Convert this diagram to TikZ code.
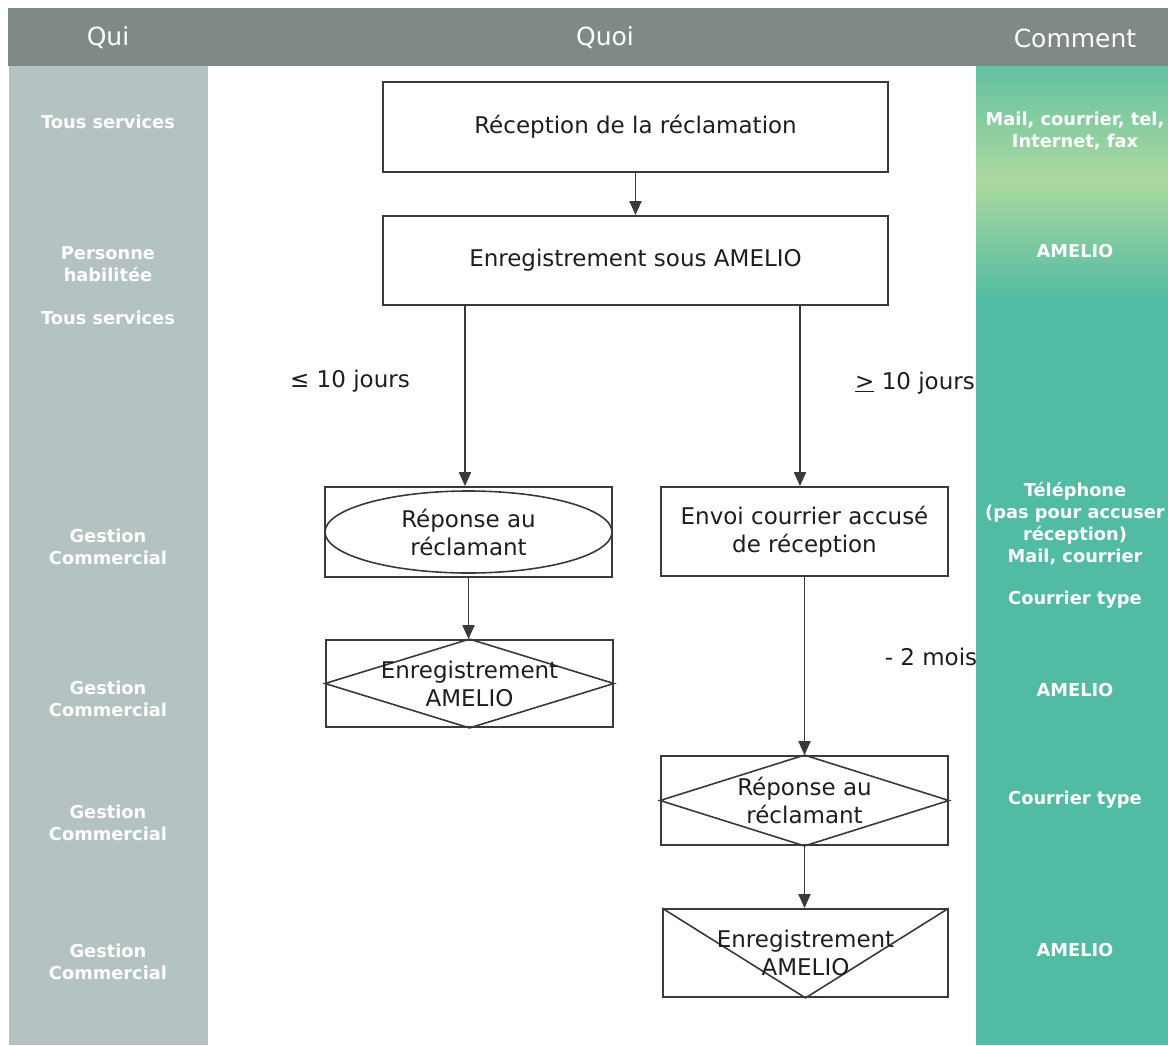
\documentclass[tikz,border=0pt]{standalone}
\usepackage{fontspec}
\setmainfont{DejaVu Sans}
\usetikzlibrary{arrows.meta,shapes.geometric}
\definecolor{hdr}{HTML}{7F8A85}
\definecolor{qui}{HTML}{B4C3C1}
\definecolor{comm}{HTML}{52BBA3}
\definecolor{commlight}{HTML}{ACD99F}
\definecolor{ln}{HTML}{3A3A3A}
\definecolor{txt}{HTML}{1E1E1E}
\begin{document}
\begin{tikzpicture}[x=1pt,y=-1pt,
  box/.style={draw=ln, line width=1.8pt, minimum width=287pt, minimum height=89pt, inner sep=0pt, align=center, font=\fontsize{23}{28}\selectfont, text=txt},
  inner/.style={draw=ln, line width=1.6pt},
  conn/.style={draw=ln, line width=1.9pt, -{Triangle[length=14pt,width=12pt]}},
  lbl/.style={font=\fontsize{23}{28}\selectfont, text=txt, inner sep=0pt},
  hdrtxt/.style={font=\fontsize{25}{28}\selectfont, text=white},
  colt/.style={font=\bfseries\fontsize{17.8}{22}\selectfont, text=white, align=center, inner sep=0pt}
]
\useasboundingbox (0,0) rectangle (1168,1045);
\fill[white] (0,0) rectangle (1168,1045);
% columns
\fill[hdr] (8,8) rectangle (1168,66);
\fill[qui] (9,66) rectangle (208,1045);
\fill[comm] (976,66) rectangle (1168,1045);
\shade[top color=comm!80!commlight, bottom color=commlight] (976,66) rectangle (1168,180);
\shade[top color=commlight, bottom color=comm] (976,180) rectangle (1168,300);
% headers
\node[hdrtxt] (hqui) at (108,38) {Qui};
\node[hdrtxt] (hquoi) at (605,38) {Quoi};
\node[hdrtxt] (hcomm) at (1075,38) {Comment};
% left column
\node[colt] (q1) at (108,122) {Tous services};
\node[colt] (q2) at (108,264) {Personne\\habilitée};
\node[colt] (q3) at (108,318) {Tous services};
\node[colt] (q4) at (108,547) {Gestion\\Commercial};
\node[colt] (q5) at (108,699) {Gestion\\Commercial};
\node[colt] (q6) at (108,823) {Gestion\\Commercial};
\node[colt] (q7) at (108,962) {Gestion\\Commercial};
% right column
\node[colt] (c1) at (1075,131) {Mail, courrier, tel,\\Internet, fax};
\node[colt] (c2) at (1075,251) {AMELIO};
\node[colt] (c3) at (1075,524) {Téléphone\\(pas pour accuser\\réception)\\Mail, courrier};
\node[colt] (c4) at (1075,600) {Courrier type};
\node[colt] (c5) at (1075,690) {AMELIO};
\node[colt] (c6) at (1075,800) {Courrier type};
\node[colt] (c7) at (1075,950) {AMELIO};
% boxes
\node[box, minimum width=505pt, minimum height=90pt] (b1) at (635.5,127) {};
\node[lbl] at (b1.center) {Réception de la réclamation};
\node[box, minimum width=505pt, minimum height=89pt] (b2) at (635.5,260.5) {};
\node[lbl] at (b2.center) {Enregistrement sous AMELIO};
\node[box, minimum height=90pt] (b3) at (468.5,532) {};
\node[ellipse, inner, minimum width=287pt, minimum height=82pt, inner sep=0pt] (e3) at (b3.center) {};
\node[lbl, align=center] at (b3.center) {Réponse au\\réclamant};
\node[box, minimum height=87pt] (b4) at (469.5,683.5) {};
\draw[inner] (b4.west) -- (b4.north) -- (b4.east) -- (b4.south) -- cycle;
\node[lbl, align=center] at (b4.center) {Enregistrement\\AMELIO};
\node[box] (b5) at (804.5,531.5) {};
\node[lbl, align=center] at (b5.center) {Envoi courrier accusé\\de réception};
\node[box] (b6) at (804.5,800.5) {};
\draw[inner] (b6.west) -- (b6.north) -- (b6.east) -- (b6.south) -- cycle;
\node[lbl, align=center] at (b6.center) {Réponse au\\réclamant};
\node[box, minimum width=285pt, minimum height=88pt] (b7) at (805.5,953) {};
\draw[inner] (b7.north west) -- (b7.south) -- (b7.north east);
\node[lbl, align=center] at (b7.center) {Enregistrement\\AMELIO};
% connectors
\draw[conn] (b1.south) -- (b2.north);
\coordinate (l0) at (465,305);
\coordinate (r0) at (800,305);
\draw[conn] (l0) -- (l0 |- b3.north);
\draw[conn] (r0) -- (r0 |- b5.north);
\draw[conn] (b3.south) -- (b3.south |- b4.north);
\draw[conn] (b5.south) -- (b5.south |- b6.north);
\draw[conn] (b6.south) -- (b6.south |- b7.north);
% labels
\node[lbl] (t1) at (350,381) {≤ 10 jours};
\node[lbl] (t2) at (915,383) {\underline{>} 10 jours};
\node[lbl] (t3) at (931,657) {- 2 mois};
\end{tikzpicture}
\end{document}
